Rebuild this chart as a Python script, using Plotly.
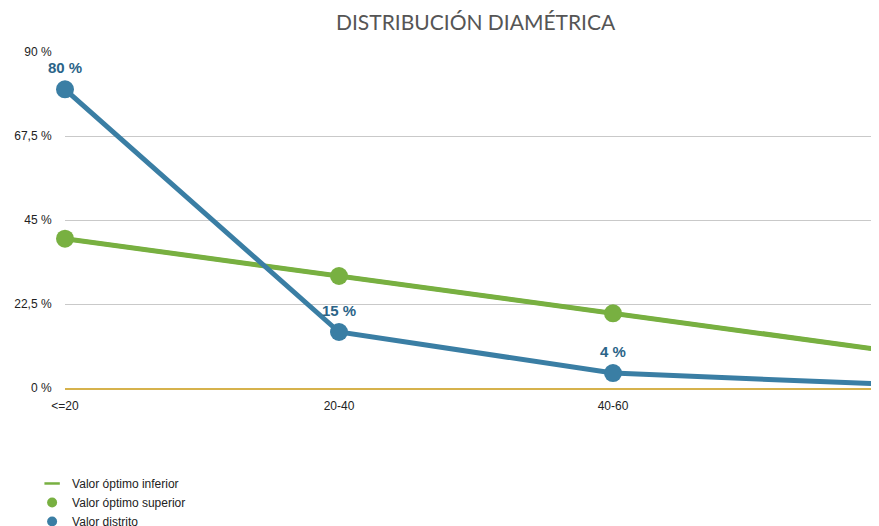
import plotly.graph_objects as go

CATEGORIES = ["<=20", "20-40", "40-60", ">60"]
OPTIMO_INFERIOR = [40, 30, 20, 10]
OPTIMO_SUPERIOR = [40, 30, 20, 10]
DISTRITO = [80, 15, 4, 1]
Y_TICKS = [0, 22.5, 45, 67.5, 90]
Y_TICK_TEXT = ["0 %", "22,5 %", "45 %", "67,5 %", "90 %"]

GREEN = "#78b041"
BLUE = "#3a7ea4"
LABEL_BLUE = "#2b6488"
GOLD = "#d6b24c"

x = list(range(len(CATEGORIES)))

fig = go.Figure()
fig.add_trace(go.Scatter(
    x=x, y=OPTIMO_INFERIOR, mode="lines", name="Valor óptimo inferior",
    line=dict(color=GREEN, width=5), showlegend=False, cliponaxis=False,
))
fig.add_trace(go.Scatter(
    x=x, y=OPTIMO_SUPERIOR, mode="lines+markers", name="Valor óptimo superior",
    line=dict(color=GREEN, width=4), marker=dict(color=GREEN, size=18),
    showlegend=False, cliponaxis=False,
))
fig.add_trace(go.Scatter(
    x=x, y=DISTRITO, mode="lines+markers+text", name="Valor distrito",
    line=dict(color=BLUE, width=5), marker=dict(color=BLUE, size=18),
    text=[f"{v} %" for v in DISTRITO], textposition="top center",
    textfont=dict(family="Liberation Sans", size=15, color=LABEL_BLUE, weight="bold"),
    showlegend=False, cliponaxis=False,
))
# legend-only entries, drawn like the original's small symbols
fig.add_trace(go.Scatter(
    x=[None], y=[None], mode="markers", name="Valor óptimo inferior",
    marker=dict(symbol="line-ew", size=11, line=dict(color=GREEN, width=2.5)),
))
fig.add_trace(go.Scatter(
    x=[None], y=[None], mode="markers", name="Valor óptimo superior",
    marker=dict(color=GREEN, size=10),
))
fig.add_trace(go.Scatter(
    x=[None], y=[None], mode="markers", name="Valor distrito",
    marker=dict(color=BLUE, size=10),
))

# the page body adds an 8px offset, so the figure is laid out 8px up/left
fig.update_layout(
    width=879, height=526,
    margin=dict(l=57, r=0, t=44, b=146, autoexpand=False),
    paper_bgcolor="white", plot_bgcolor="white",
    font=dict(family="Liberation Sans", size=12, color="#222"),
    title=dict(
        text="DISTRIBUCIÓN DIAMÉTRICA", x=0.532, xanchor="center", y=0.973, yanchor="middle",
        font=dict(family="Lato", size=21, color="#555"),
    ),
    showlegend=True,
    legend=dict(
        xref="paper", yref="paper", x=-0.040, xanchor="left", y=-0.241, yanchor="top",
        font=dict(size=12, color="#222"), bgcolor="rgba(0,0,0,0)",
        tracegroupgap=0, itemwidth=30,
    ),
)
fig.update_xaxes(
    range=[0, 3], tickvals=x, ticktext=CATEGORIES,
    showgrid=False, zeroline=False,
    showline=True, linecolor=GOLD, linewidth=2,
    ticks="outside", ticklen=6, tickcolor="rgba(0,0,0,0)",
)
fig.update_yaxes(
    range=[0, 90], tickvals=Y_TICKS, ticktext=Y_TICK_TEXT,
    showgrid=True, gridcolor="#c9c9c9", gridwidth=1, zeroline=False,
    ticks="outside", ticklen=10, tickcolor="rgba(0,0,0,0)",
)

fig.write_html("out.html")
